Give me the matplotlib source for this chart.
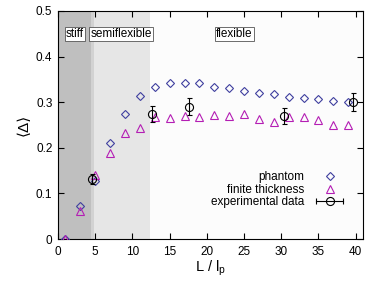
import numpy as np
import matplotlib
matplotlib.use('Agg')
import matplotlib.pyplot as plt
from matplotlib.lines import Line2D
from matplotlib.legend_handler import HandlerLine2D

plt.rcParams['font.family'] = ['Liberation Sans', 'DejaVu Sans']
plt.rcParams['mathtext.fontset'] = 'custom'
plt.rcParams['mathtext.rm'] = 'Liberation Sans'

# simulation: L / lp and <Delta>
sim_x = [1, 3, 5, 7, 9, 11, 13, 15, 17, 19, 21, 23, 25, 27, 29, 31, 33, 35, 37, 39]
phantom = [0.0, 0.073, 0.127, 0.21, 0.273, 0.314, 0.334, 0.343, 0.341, 0.341,
           0.334, 0.330, 0.324, 0.321, 0.317, 0.311, 0.309, 0.306, 0.303, 0.300]
finite = [0.0, 0.062, 0.140, 0.188, 0.232, 0.243, 0.267, 0.266, 0.270, 0.267,
          0.271, 0.270, 0.273, 0.263, 0.256, 0.267, 0.268, 0.261, 0.249, 0.249]

# experiment
exp_x = [4.6, 12.6, 17.6, 30.4, 39.7]
exp_y = [0.131, 0.274, 0.290, 0.270, 0.301]
exp_err = [0.011, 0.018, 0.019, 0.017, 0.020]

regions = ['stiff', 'semiflexible', 'flexible']
region_x = [2.3, 8.5, 23.7]

x_ticks = [0, 5, 10, 15, 20, 25, 30, 35, 40]
y_ticks = [0, 0.1, 0.2, 0.3, 0.4, 0.5]
y_ticklabels = ['0', '0.1', '0.2', '0.3', '0.4', '0.5']

BLUE = '#3f3f9f'
MAGENTA = '#b41eb4'

fig = plt.figure(figsize=(3.74, 2.86), dpi=100)
ax = fig.add_axes([0.155, 0.164, 0.816, 0.798])
ax.set_facecolor('#fcfcfc')

# background regimes
ax.axvspan(0, 4.4, color='#bfbfbf', lw=0, zorder=0)
ax.axvspan(4.4, 4.8, color='#d2d2d2', lw=0, zorder=0)
ax.axvspan(4.8, 12.3, color='#e6e6e6', lw=0, zorder=0)

ax.plot(sim_x, phantom, ls='none', marker='D', ms=3.8, mfc='none',
        mec=BLUE, mew=0.8, zorder=3)
ax.plot(sim_x, finite, ls='none', marker='^', ms=5.2, mfc='none',
        mec=MAGENTA, mew=0.8, zorder=3)
ax.errorbar(exp_x, exp_y, yerr=exp_err, fmt='o', ms=5.8, mfc='none',
            mec='k', mew=0.8, ecolor='k', elinewidth=0.8, capsize=1.8,
            capthick=0.8, zorder=4)

for name, xr in zip(regions, region_x):
    ax.text(xr, 0.45, name, ha='center', va='center', fontsize=8.5,
            bbox=dict(boxstyle='square,pad=0.1', fc='white', ec='#555555', lw=0.6),
            zorder=5)

ax.set_xlim(0, 41)
ax.set_ylim(0, 0.5)
ax.set_xticks(x_ticks)
ax.set_yticks(y_ticks)
ax.set_yticklabels(y_ticklabels)
ax.tick_params(direction='in', length=4, width=0.8, top=True, right=True,
               labelsize=8.5)
ax.tick_params(axis='x', pad=5)
ax.tick_params(axis='y', pad=4)
for s in ax.spines.values():
    s.set_linewidth(0.8)

ax.set_xlabel(r'L / l$_{\rm p}$', fontsize=10.5, labelpad=0)
ax.set_ylabel('⟨Δ⟩', fontsize=11, labelpad=4)

# legend
h_ph = Line2D([], [], ls='none', marker='D', ms=3.8, mfc='none', mec=BLUE, mew=0.8)
h_ft = Line2D([], [], ls='none', marker='^', ms=5.2, mfc='none', mec=MAGENTA, mew=0.8)
h_caps = Line2D([], [], color='k', lw=0.8, marker='|', ms=5, mew=0.8)
h_circ = Line2D([], [], ls='none', marker='o', ms=5.8, mfc='none', mec='k', mew=0.8)
ax.legend([h_ph, h_ft, (h_caps, h_circ)],
          ['phantom', 'finite thickness', 'experimental data'],
          handler_map={h_caps: HandlerLine2D(numpoints=2, marker_pad=0)},
          loc='lower right', bbox_to_anchor=(0.935, 0.135), frameon=False,
          markerfirst=False, fontsize=8.5, handlelength=2.3, handletextpad=1.0,
          labelspacing=0.05, borderpad=0, borderaxespad=0)

fig.savefig('out.png', dpi=100)
